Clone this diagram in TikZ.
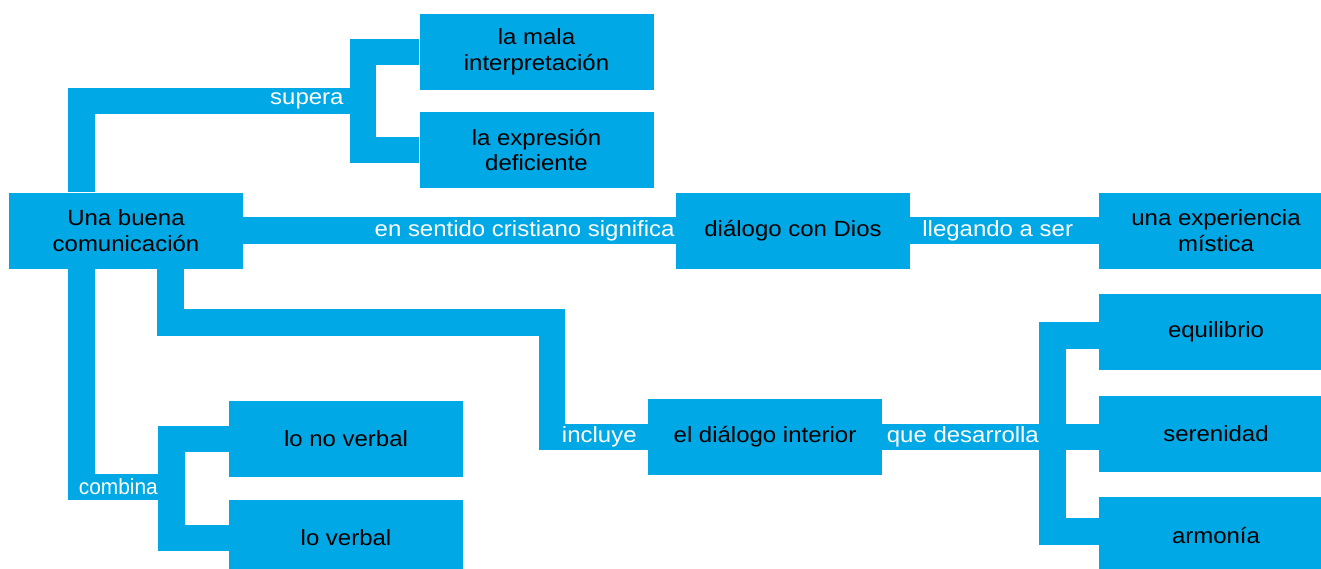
\documentclass[tikz,border=0pt]{standalone}
\usepackage{fontspec}
\setmainfont{Liberation Sans}[FakeStretch=1.09]
\definecolor{mapblue}{RGB}{0,168,230}

\begin{document}
\begin{tikzpicture}[x=1pt,y=-1pt,
  box/.style={fill=mapblue,minimum width=234pt,minimum height=76pt,inner sep=0pt,
    align=center,font=\fontsize{22}{25.7}\selectfont},
  conn/.style={draw=mapblue,line width=26.5pt},
  lbl/.style={text=white,inner sep=0pt,font=\fontsize{22}{25.7}\selectfont}]
\useasboundingbox (0,0) rectangle (1321,568);
\clip (0,0) rectangle (1321,568);

\node[box] (root) at (126,230.5) {Una buena\\comunicación};
\node[box] (mala) at (536.5,52) {la mala\\interpretación};
\node[box] (expr) at (536.5,150) {la expresión\\deficiente};
\node[box] (dios) at (793,230.5) {diálogo con Dios};
\node[box] (mistica) at (1216,230.5) {una experiencia\\mística};
\node[box] (interior) at (765,437) {el diálogo interior};
\node[box] (equil) at (1216,332) {equilibrio};
\node[box] (seren) at (1216,434) {serenidad};
\node[box] (armonia) at (1216,535) {armonía};
\node[box] (noverbal) at (346,439) {lo no verbal};
\node[box] (verbal) at (346,538) {lo verbal};

\coordinate (jsup) at (362.75,101);
\coordinate (jinc) at (551.75,322.5);
\coordinate (jcomb) at (171.5,487);
\coordinate (jdes) at (1052.5,437);

\draw[conn] ([xshift=-44.75pt]root.north) |- (jsup);
\draw[conn] (mala.west) -| (jsup) |- (expr.west);
\draw[conn] (root) -- (dios);
\draw[conn] (dios) -- (mistica);
\draw[conn] ([xshift=44.25pt]root.south) |- (jinc) |- (interior.west);
\draw[conn] ([xshift=-44.75pt]root.south) |- (jcomb);
\draw[conn] (noverbal.west) -| (jcomb) |- (verbal.west);
\draw[conn] (interior) -- (interior -| seren.west);
\draw[conn] ([yshift=-3.5pt]equil.west) -| (jdes) |- ([yshift=3.5pt]armonia.west);

\node[lbl,anchor=east] (lsup) at ([xshift=-19pt]jsup) {supera};
\node[lbl,anchor=east] (lsig) at ([xshift=-1pt]dios.west) {en sentido cristiano significa};
\node[lbl,anchor=west] (lleg) at ([xshift=12pt]dios.east) {llegando a ser};
\node[lbl,anchor=west] (ldes) at ([xshift=4.5pt]interior.east) {que desarrolla};
\node[lbl,anchor=east] (linc) at ([xshift=-11pt]interior.west) {incluye};
\node[lbl,anchor=east] (lcomb) at ([xshift=-13.5pt]jcomb) {\scalebox{0.87}[1]{combina}};
\end{tikzpicture}
\end{document}
